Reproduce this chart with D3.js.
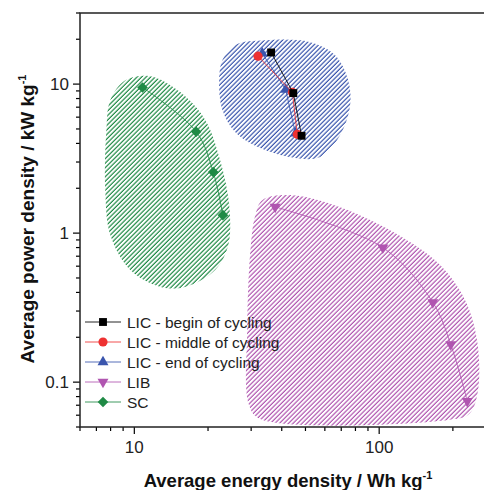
<!DOCTYPE html>
<html>
<head>
<meta charset="utf-8">
<script src="https://cdn.jsdelivr.net/npm/d3@7/dist/d3.min.js"></script>
<style>
  html, body { margin: 0; padding: 0; background: #fff; overflow: hidden; }
  svg { display: block; font-family: "Liberation Sans", Arial, sans-serif; }
</style>
</head>
<body>
<svg id="chart" width="484" height="490"></svg>
<script>
// ── data (energy in Wh/kg, power in kW/kg) ──
const seriesNames = ["LIC - begin of cycling", "LIC - middle of cycling", "LIC - end of cycling", "LIB", "SC"];

const licBeginEnergy = [36.2, 44.6, 48.2];
const licBeginPower = [16.3, 8.7, 4.5];
const licMiddleEnergy = [32.0, 44.2, 46.3];
const licMiddlePower = [15.4, 8.8, 4.6];
const licEndEnergy = [33.3, 41.5, 45.5];
const licEndPower = [16.1, 9.2, 4.67];
const libEnergy = [37.6, 103.5, 165.6, 196, 229];
const libPower = [1.5, 0.8, 0.343, 0.179, 0.0746];
const scEnergy = [10.8, 17.9, 21.0, 23.0];
const scPower = [9.5, 4.79, 2.57, 1.32];

// outlines of the shaded regions, [energy, power]
const licRegion = [[22.9, 14.5], [25.8, 18.3], [34.2, 19.7], [52.3, 19.1], [66.1, 15.6], [74.7, 10.6], [76.1, 7.2],
  [69.3, 4.55], [57.4, 3.24], [45.4, 3.19], [32.7, 3.72], [25.8, 4.77], [22.9, 6.69], [22.2, 10.6]];
const scRegion = [[9.19, 10.6], [11.6, 11.3], [15.4, 8.84], [19.5, 5.73], [22.4, 3.09], [24.4, 1.54], [24.2, 0.831],
  [21.4, 0.565], [16.1, 0.435], [12.8, 0.435], [9.63, 0.565], [7.98, 0.97], [7.61, 1.94], [7.69, 4.91], [7.98, 7.81]];
const libRegion = [[33.3, 1.665], [43.3, 1.8], [69.3, 1.49], [121.8, 0.955], [177.4, 0.61], [224.4, 0.355], [251, 0.191],
  [253.5, 0.0884], [235, 0.0619], [204, 0.0565], [32.7, 0.0565], [29.4, 0.0702], [28.9, 0.2234], [29.8, 0.769], [31.2, 1.32]];

const xTickLabels = ["10", "100"];
const yTickLabels = ["0.1", "1", "10"];

(function () {
  const svg = d3.select("#chart");

  const x = d3.scaleLog().domain([6, 300]).range([80, 496]);
  const y = d3.scaleLog().domain([0.05, 30]).range([427, 13]);

  const colors = {
    black: "#000000",
    red: "#ee3131",
    blue: "#3a55ad",
    magenta: "#b055b0",
    green: "#1f8a45",
  };

  /* ── hatch patterns ── */
  const defs = svg.append("defs");
  function hatch(id, color) {
    const p = defs
      .append("pattern")
      .attr("id", id)
      .attr("patternUnits", "userSpaceOnUse")
      .attr("width", 3.2)
      .attr("height", 3.2)
      .attr("patternTransform", "rotate(45)");
    p.append("line")
      .attr("x1", 1)
      .attr("y1", 0)
      .attr("x2", 1)
      .attr("y2", 3.2)
      .attr("stroke", color)
      .attr("stroke-width", 1.2);
  }
  hatch("h-blue", colors.blue);
  hatch("h-green", colors.green);
  hatch("h-magenta", colors.magenta);

  const blob = d3
    .line()
    .x((d) => x(d[0]))
    .y((d) => y(d[1]))
    .curve(d3.curveCatmullRomClosed.alpha(0.5));

  const regions = [
    { pts: licRegion, fill: "url(#h-blue)" },
    { pts: scRegion, fill: "url(#h-green)" },
    { pts: libRegion, fill: "url(#h-magenta)" },
  ];
  svg
    .append("g")
    .selectAll("path")
    .data(regions)
    .join("path")
    .attr("d", (d) => blob(d.pts))
    .attr("fill", (d) => d.fill)
    .attr("stroke", "none");

  /* ── axes ── */
  const xAxis = svg.append("g").attr("transform", "translate(0,427)");
  const xTicks = x.ticks();
  xAxis
    .selectAll("line")
    .data(xTicks)
    .join("line")
    .attr("x1", (d) => x(d))
    .attr("x2", (d) => x(d))
    .attr("y1", 0)
    .attr("y2", (d) => (Number.isInteger(Math.log10(d)) ? 7 : 4))
    .attr("stroke", "#000")
    .attr("stroke-width", 1.2);
  xAxis
    .selectAll("text")
    .data(xTickLabels)
    .join("text")
    .attr("x", (d) => x(+d))
    .attr("y", 26)
    .attr("text-anchor", "middle")
    .attr("font-size", 17)
    .attr("fill", "#222")
    .text((d) => d);

  const yAxis = svg.append("g").attr("transform", "translate(80,0)");
  const yTicks = y.ticks();
  yAxis
    .selectAll("line")
    .data(yTicks)
    .join("line")
    .attr("y1", (d) => y(d))
    .attr("y2", (d) => y(d))
    .attr("x1", 0)
    .attr("x2", (d) => (Math.abs(Math.log10(d) - Math.round(Math.log10(d))) < 1e-9 ? -7 : -4))
    .attr("stroke", "#000")
    .attr("stroke-width", 1.2);
  yAxis
    .selectAll("text")
    .data(yTickLabels)
    .join("text")
    .attr("x", -11)
    .attr("y", (d) => y(+d) + 6)
    .attr("text-anchor", "end")
    .attr("font-size", 17)
    .attr("fill", "#222")
    .text((d) => d);

  // frame
  svg
    .append("rect")
    .attr("x", x(6))
    .attr("y", y(30))
    .attr("width", x(300) - x(6))
    .attr("height", y(0.05) - y(30))
    .attr("fill", "none")
    .attr("stroke", "#222")
    .attr("stroke-width", 1.5);

  /* ── axis titles ── */
  const xt = svg
    .append("text")
    .attr("x", 288)
    .attr("y", 487)
    .attr("text-anchor", "middle")
    .attr("font-size", 18.5)
    .attr("font-weight", "bold")
    .attr("fill", "#111");
  xt.append("tspan").text("Average energy density / Wh kg");
  xt.append("tspan").attr("font-size", 11).attr("dy", -8).text("-1");

  const yt = svg
    .append("text")
    .attr("transform", "translate(34,219) rotate(-90)")
    .attr("text-anchor", "middle")
    .attr("font-size", 19)
    .attr("font-weight", "bold")
    .attr("fill", "#111");
  yt.append("tspan").text("Average power density / kW kg");
  yt.append("tspan").attr("font-size", 11).attr("dy", -8).text("-1");

  /* ── series ── */
  const series = [
    { name: seriesNames[0], e: licBeginEnergy, p: licBeginPower, color: colors.black, sym: d3.symbolSquare, size: 62, rot: 0, curve: d3.curveLinear },
    { name: seriesNames[1], e: licMiddleEnergy, p: licMiddlePower, color: colors.red, sym: d3.symbolCircle, size: 66, rot: 0, curve: d3.curveLinear },
    { name: seriesNames[2], e: licEndEnergy, p: licEndPower, color: colors.blue, sym: d3.symbolTriangle, size: 52, rot: 0, curve: d3.curveLinear },
    { name: seriesNames[3], e: libEnergy, p: libPower, color: colors.magenta, sym: d3.symbolTriangle, size: 52, rot: 180, curve: d3.curveCatmullRom },
    { name: seriesNames[4], e: scEnergy, p: scPower, color: colors.green, sym: d3.symbolSquare, size: 56, rot: 45, curve: d3.curveCatmullRom },
  ];

  // draw SC and LIB first, then LIC end/middle/begin so black sits on top like the original
  const drawOrder = [4, 3, 2, 1, 0];
  const plot = svg.append("g");
  drawOrder.forEach((i) => {
    const s = series[i];
    const pts = s.e.map((v, k) => [v, s.p[k]]);
    const line = d3
      .line()
      .x((d) => x(d[0]))
      .y((d) => y(d[1]))
      .curve(s.curve);
    plot
      .append("path")
      .attr("d", line(pts))
      .attr("fill", "none")
      .attr("stroke", s.color)
      .attr("stroke-width", 1)
      .attr("stroke-opacity", 0.85);
    plot
      .append("g")
      .selectAll("path")
      .data(pts)
      .join("path")
      .attr("d", d3.symbol(s.sym, s.size))
      .attr("transform", (d) => "translate(" + x(d[0]) + "," + y(d[1]) + ") rotate(" + s.rot + ")")
      .attr("fill", s.color);
  });

  /* ── legend ── */
  const legend = svg.append("g").attr("transform", "translate(85,322)");
  const row = legend
    .selectAll("g")
    .data(series)
    .join("g")
    .attr("transform", (d, i) => "translate(0," + i * 20 + ")");
  row
    .append("line")
    .attr("x1", 0)
    .attr("x2", 36)
    .attr("stroke", (d) => d.color)
    .attr("stroke-width", 1)
    .attr("stroke-opacity", 0.85);
  row
    .append("path")
    .attr("d", (d) => d3.symbol(d.sym, d.size)())
    .attr("transform", (d) => "translate(18,0) rotate(" + d.rot + ")")
    .attr("fill", (d) => d.color);
  row
    .append("text")
    .attr("x", 42)
    .attr("y", 5.5)
    .attr("font-size", 15.5)
    .attr("fill", "#222")
    .text((d) => d.name);
})();
</script>
</body>
</html>
